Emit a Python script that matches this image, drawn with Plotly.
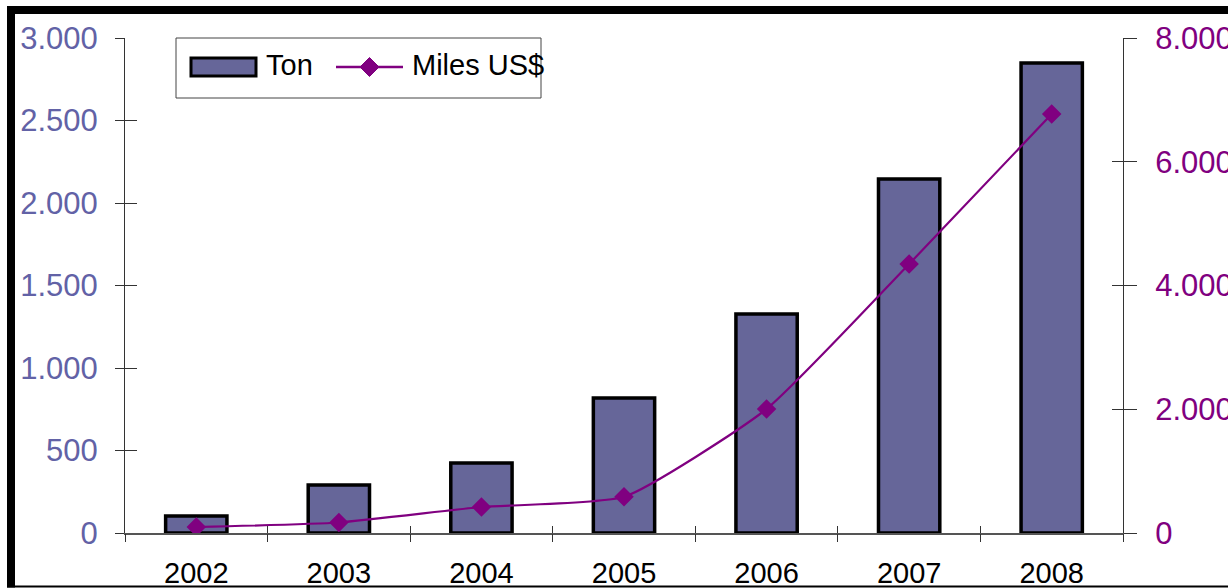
import plotly.graph_objects as go

years = ["2002", "2003", "2004", "2005", "2006", "2007", "2008"]
ton = [103, 291, 424, 818, 1327, 2145, 2848]
miles_usd = [97, 170, 420, 585, 2004, 4347, 6771]
left_ticks = [0, 500, 1000, 1500, 2000, 2500, 3000]
right_ticks = [0, 2000, 4000, 6000, 8000]
legend_names = ["Ton", "Miles US$"]

W_PX, H_PX = 1228, 588
L, R, T, B = 125, 105, 38, 55
PW, PH = W_PX - L - R, H_PX - T - B

def px(x):
    return (x - L) / PW

def py(y):
    return (T + PH - y) / PH

BAR_COLOR = "#666699"
LINE_COLOR = "#800080"
AX_COLOR = "#333333"

xpos = list(range(len(years)))
bounds = [i - 0.5 for i in range(len(years) + 1)]
xr = [-0.5, len(years) - 0.5]

fig = go.Figure()
fig.add_trace(go.Bar(
    x=xpos, y=ton, name=legend_names[0], width=0.43,
    marker=dict(color=BAR_COLOR, line=dict(color="#000000", width=3.5)),
    yaxis="y", showlegend=False,
))
fig.add_trace(go.Scatter(
    x=xpos, y=miles_usd, name=legend_names[1], mode="lines+markers",
    line=dict(color=LINE_COLOR, width=2.2, shape="spline", smoothing=0.5),
    marker=dict(symbol="diamond", size=15, color=LINE_COLOR),
    yaxis="y2", showlegend=False,
))
# empty helper traces so the tick-only overlay axes get drawn
for xa, ya in [("x2", "y"), ("x3", "y"), ("x", "y3"), ("x", "y4")]:
    fig.add_trace(go.Scatter(x=[None], y=[None], xaxis=xa, yaxis=ya,
                             showlegend=False, hoverinfo="skip", mode="markers"))

font_family = "Liberation Sans, Arial, sans-serif"

tick_only = dict(showticklabels=False, showgrid=False, zeroline=False,
                 showline=False, tickcolor=AX_COLOR, tickwidth=1, automargin=False)

# custom legend (box, swatches, labels)
leg_shapes = [
    dict(type="rect", xref="paper", yref="paper", x0=px(176), x1=px(541),
         y0=py(98), y1=py(38), fillcolor="white", line=dict(color="#444444", width=1)),
    dict(type="rect", xref="paper", yref="paper", x0=px(191), x1=px(256),
         y0=py(76), y1=py(58), fillcolor=BAR_COLOR, line=dict(color="#000000", width=3)),
    dict(type="line", xref="paper", yref="paper", x0=px(336), x1=px(403),
         y0=py(67), y1=py(67), line=dict(color=LINE_COLOR, width=2.5)),
]
cx, cy, hw, hh = 369.5, 67, 9.5, 9.5
diamond = "M {} {} L {} {} L {} {} L {} {} Z".format(
    px(cx - hw), py(cy), px(cx), py(cy - hh), px(cx + hw), py(cy), px(cx), py(cy + hh))
leg_shapes.append(dict(type="path", xref="paper", yref="paper", path=diamond,
                       fillcolor=LINE_COLOR, line=dict(color=LINE_COLOR, width=1)))

annotations = [
    dict(text=legend_names[0], xref="paper", yref="paper", x=px(264), y=py(65),
         xanchor="left", yanchor="middle", showarrow=False,
         font=dict(size=29, family=font_family, color="#000000")),
    dict(text=legend_names[1], xref="paper", yref="paper", x=px(410), y=py(65),
         xanchor="left", yanchor="middle", showarrow=False,
         font=dict(size=29, family=font_family, color="#000000")),
]

frame_shapes = [
    dict(type="rect", xref="paper", yref="paper", x0=px(7), x1=px(1240),
         y0=py(14), y1=py(6), fillcolor="#000000", line=dict(width=0), layer="above"),
    dict(type="rect", xref="paper", yref="paper", x0=px(7), x1=px(15),
         y0=py(587.5), y1=py(6), fillcolor="#000000", line=dict(width=0), layer="above"),
    dict(type="rect", xref="paper", yref="paper", x0=px(7), x1=px(1240),
         y0=py(587.5), y1=py(585.5), fillcolor="#000000", line=dict(width=0), layer="above"),
]

fig.update_layout(
    width=W_PX, height=H_PX,
    margin=dict(l=L, r=R, t=T, b=B, pad=0, autoexpand=False),
    paper_bgcolor="white", plot_bgcolor="white",
    separators=",.",
    font=dict(family=font_family, color="#000000"),
    showlegend=False,
    xaxis=dict(
        range=xr, tickvals=xpos, ticktext=years,
        ticks="", showgrid=False, zeroline=False, showline=True,
        linecolor="#555555", linewidth=2, automargin=False,
        tickfont=dict(size=29, color="#000000"), ticklabelstandoff=13,
    ),
    xaxis2=dict(overlaying="x", anchor="y", side="bottom", range=xr,
                tickvals=bounds, ticks="outside", ticklen=8, **tick_only),
    xaxis3=dict(overlaying="x", anchor="y", side="bottom", range=xr,
                tickvals=bounds[1:-1], ticks="inside", ticklen=7, **tick_only),
    yaxis=dict(
        range=[0, 3000], tickvals=left_ticks, tickformat=",d",
        ticks="outside", ticklen=9, tickcolor=AX_COLOR, tickwidth=1,
        showgrid=False, zeroline=False, showline=True, automargin=False,
        linecolor=AX_COLOR, linewidth=1,
        tickfont=dict(size=31, color="#6262a6"), ticklabelstandoff=11,
    ),
    yaxis2=dict(
        overlaying="y", side="right", anchor="x",
        range=[0, 8000], tickvals=right_ticks, tickformat=",d",
        ticks="outside", ticklen=13, tickcolor=AX_COLOR, tickwidth=1,
        showgrid=False, zeroline=False, showline=True, automargin=False,
        linecolor=AX_COLOR, linewidth=1,
        tickfont=dict(size=31, color=LINE_COLOR), ticklabelstandoff=12,
    ),
    yaxis3=dict(overlaying="y", side="left", anchor="x", range=[0, 3000],
                tickvals=left_ticks, ticks="inside", ticklen=12, **tick_only),
    yaxis4=dict(overlaying="y", side="right", anchor="x", range=[0, 8000],
                tickvals=right_ticks, ticks="inside", ticklen=11, **tick_only),
    shapes=leg_shapes + frame_shapes,
    annotations=annotations,
)

fig.write_html("out.html")
